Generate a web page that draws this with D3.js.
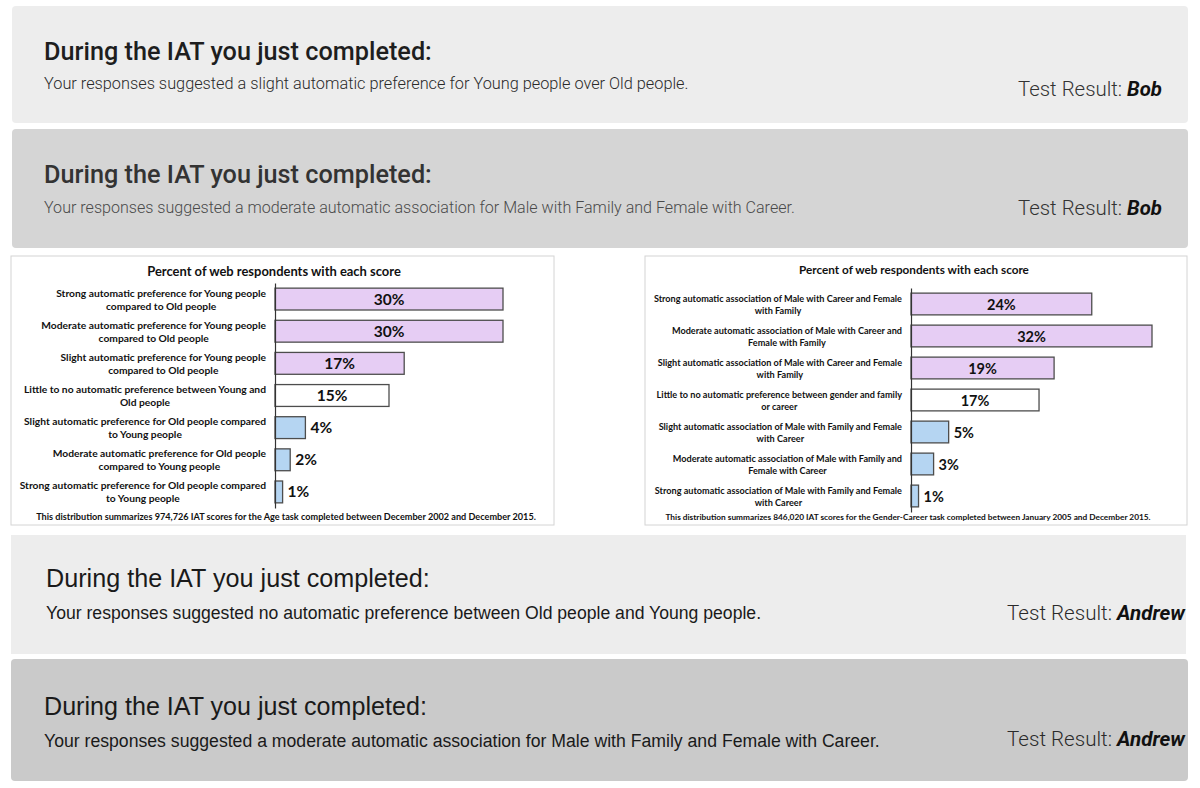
<!DOCTYPE html>
<html><head><meta charset="utf-8">
<script src="https://cdn.jsdelivr.net/npm/d3@7"></script>
<style>html,body{margin:0;padding:0;background:#fff;overflow:hidden}svg{display:block}</style>
</head><body>
<svg id="c" width="1200" height="788"></svg>
<script>
// ---------- data ----------
const chartTitle = "Percent of web respondents with each score";

const ageCategories = [
  "Strong automatic preference for Young people\ncompared to Old people",
  "Moderate automatic preference for Young people\ncompared to Old people",
  "Slight automatic preference for Young people\ncompared to Old people",
  "Little to no automatic preference between Young and\nOld people",
  "Slight automatic preference for Old people compared\nto Young people",
  "Moderate automatic preference for Old people\ncompared to Young people",
  "Strong automatic preference for Old people compared\nto Young people"
];
const ageValues = [30, 30, 17, 15, 4, 2, 1];
const ageGroups = ["young", "young", "young", "neutral", "old", "old", "old"];
const ageNote = "This distribution summarizes 974,726 IAT scores for the Age task completed between December 2002 and December 2015.";

const genderCategories = [
  "Strong automatic association of Male with Career and Female\nwith Family",
  "Moderate automatic association of Male with Career and\nFemale with Family",
  "Slight automatic association of Male with Career and Female\nwith Family",
  "Little to no automatic preference between gender and family\nor career",
  "Slight automatic association of Male with Family and Female\nwith Career",
  "Moderate automatic association of Male with Family and\nFemale with Career",
  "Strong automatic association of Male with Family and Female\nwith Career"
];
const genderValues = [24, 32, 19, 17, 5, 3, 1];
const genderGroups = ["young", "young", "young", "neutral", "old", "old", "old"];
const genderNote = "This distribution summarizes 846,020 IAT scores for the Gender-Career task completed between January 2005 and December 2015.";

const panelHeadings = [
  "During the IAT you just completed:",
  "During the IAT you just completed:",
  "During the IAT you just completed:",
  "During the IAT you just completed:"
];
const panelMessages = [
  "Your responses suggested a slight automatic preference for Young people over Old people.",
  "Your responses suggested a moderate automatic association for Male with Family and Female with Career.",
  "Your responses suggested no automatic preference between Old people and Young people.",
  "Your responses suggested a moderate automatic association for Male with Family and Female with Career."
];
const resultLabel = "Test Result: ";
const panelResults = ["Bob", "Bob", "Andrew", "Andrew"];

// ---------- drawing ----------
const svg = d3.select("#c");
svg.append("rect").attr("width", 1200).attr("height", 788).attr("fill", "#fff");

function fit(sel, target) {
  const w = sel.node().getComputedTextLength();
  const fs = parseFloat(sel.attr("font-size"));
  if (w > 0) sel.attr("font-size", (fs * target / w).toFixed(2));
}

// Panels layout
const panelLayout = [
  {x:12, y:6,   w:1176, h:117, rx:4, fill:"#ededed", hx:44, hy:60, hw:388, hFont:"Roboto", hWeight:500, hFill:"#1e1e1e",
   my:89, mw:645, mFont:"Roboto", mWeight:300, mFill:"#2a2a2a", rx2:1162, ry:96, rw:144, rFill:"#333"},
  {x:12, y:129, w:1176, h:119, rx:4, fill:"#d5d5d5", hx:44, hy:183, hw:388, hFont:"Roboto", hWeight:500, hFill:"#333",
   my:213, mw:751, mFont:"Roboto", mWeight:300, mFill:"#4a4a4a", rx2:1162, ry:215, rw:144, rFill:"#333"},
  {x:11, y:535, w:1175, h:119, rx:0, fill:"#ededed", hx:46, hy:587, hw:384, hFont:"Liberation Sans", hWeight:400, hFill:"#1a1a1a",
   my:619, mw:716, mFont:"Liberation Sans", mWeight:400, mFill:"#1a1a1a", rx2:1185, ry:620, rw:178, rFill:"#2a2a2a"},
  {x:11, y:659, w:1177, h:122, rx:4, fill:"#cacaca", hx:44, hy:715, hw:383, hFont:"Liberation Sans", hWeight:400, hFill:"#1a1a1a",
   my:747, mw:836, mFont:"Liberation Sans", mWeight:400, mFill:"#1a1a1a", rx2:1185, ry:746, rw:178, rFill:"#2a2a2a"}
];

panelLayout.forEach((p, i) => {
  const g = svg.append("g");
  g.append("rect").attr("x", p.x).attr("y", p.y).attr("width", p.w).attr("height", p.h)
    .attr("rx", p.rx).attr("fill", p.fill);
  const h = g.append("text").attr("x", p.hx).attr("y", p.hy)
    .attr("font-family", p.hFont).attr("font-weight", p.hWeight).attr("font-size", 22)
    .attr("fill", p.hFill).text(panelHeadings[i]);
  fit(h, p.hw);
  const m = g.append("text").attr("x", p.hx).attr("y", p.my)
    .attr("font-family", p.mFont).attr("font-weight", p.mWeight).attr("font-size", 16)
    .attr("fill", p.mFill).text(panelMessages[i]);
  fit(m, p.mw);
  const r = g.append("text").attr("x", p.rx2).attr("y", p.ry).attr("text-anchor", "end")
    .attr("font-family", "Roboto").attr("font-size", 20);
  r.append("tspan").attr("font-weight", 300).attr("fill", p.rFill).text(resultLabel);
  r.append("tspan").attr("font-weight", 700).attr("font-style", "italic").attr("fill", "#111").text(panelResults[i]);
  fit(r, p.rw);
});

// Charts
const groupColor = d3.scaleOrdinal().domain(["young", "neutral", "old"]).range(["#e6cdf4", "#ffffff", "#b5d5f2"]);

function drawChart(cfg) {
  const g = svg.append("g");
  g.append("rect").attr("x", cfg.box[0]).attr("y", cfg.box[1]).attr("width", cfg.box[2]).attr("height", cfg.box[3])
    .attr("fill", "#fff").attr("stroke", "#d4d4d4").attr("stroke-width", 1);

  const t = g.append("text").attr("x", cfg.titleX).attr("y", cfg.titleY).attr("text-anchor", "middle")
    .attr("font-family", "Lato").attr("font-weight", 700).attr("font-size", 12).attr("fill", "#111").text(chartTitle);
  fit(t, cfg.titleW);

  const y = d3.scaleBand().domain(cfg.categories).range(cfg.yRange).paddingInner(0.32).paddingOuter(0.16);
  const x = d3.scaleLinear().domain([0, cfg.xMax]).range(cfg.xRange);

  const data = cfg.categories.map((c, i) => ({c, v: cfg.values[i], grp: cfg.groups[i]}));

  g.selectAll("rect.bar").data(data).join("rect").attr("class", "bar")
    .attr("x", x(0)).attr("y", d => y(d.c)).attr("width", d => x(d.v) - x(0)).attr("height", y.bandwidth())
    .attr("fill", d => groupColor(d.grp)).attr("stroke", "#4d4d4d").attr("stroke-width", 1.3);

  const ax = g.append("g").attr("transform", `translate(${x(0)},0)`)
    .call(d3.axisLeft(y).tickSize(0).tickSizeOuter(0).tickFormat(""));
  ax.select(".domain").attr("stroke", "#333").attr("stroke-width", 1.2);

  // value labels
  g.selectAll("text.val").data(data).join("text").attr("class", "val")
    .attr("x", d => d.v >= 10 ? (x(0) + x(d.v)) / 2 : x(d.v) + 5)
    .attr("y", d => y(d.c) + y.bandwidth() / 2 + 5.5)
    .attr("text-anchor", d => d.v >= 10 ? "middle" : "start")
    .attr("font-family", "Lato").attr("font-weight", 700).attr("font-size", cfg.valFont).attr("fill", "#111")
    .text(d => d.v + "%");

  // category labels: block right-aligned, lines centered within block
  const probe = g.append("text").attr("font-family", "Lato").attr("font-weight", 700).attr("font-size", 10)
    .text(cfg.refLine);
  const labelFont = 10 * cfg.refW / probe.node().getComputedTextLength();
  probe.remove();

  data.forEach(d => {
    const lines = d.c.split("\n");
    const cy = y(d.c) + y.bandwidth() / 2;
    const texts = lines.map((ln, k) => g.append("text")
      .attr("y", cy - 2.5 + k * cfg.lineGap)
      .attr("font-family", "Lato").attr("font-weight", 700).attr("font-size", labelFont.toFixed(2))
      .attr("fill", "#111").attr("text-anchor", "middle").text(ln));
    const maxW = d3.max(texts, tx => tx.node().getComputedTextLength());
    texts.forEach(tx => tx.attr("x", cfg.labelRight - maxW / 2));
  });

  const n = g.append("text").attr("x", cfg.noteX).attr("y", cfg.noteY).attr("text-anchor", "middle")
    .attr("font-family", "Lato").attr("font-weight", 700).attr("font-size", 8.5).attr("fill", "#111").text(cfg.note);
  fit(n, cfg.noteW);
}

drawChart({
  box: [11, 256, 543, 269],
  categories: ageCategories, values: ageValues, groups: ageGroups, note: ageNote,
  titleX: 274, titleY: 276, titleW: 254,
  yRange: [283, 508], xMax: 30, xRange: [275, 503],
  labelRight: 266, refLine: "Strong automatic preference for Young people", refW: 210, lineGap: 13,
  valFont: 15.5, noteX: 286, noteY: 520, noteW: 501
});

drawChart({
  box: [645, 256, 542, 269],
  categories: genderCategories, values: genderValues, groups: genderGroups, note: genderNote,
  titleX: 914, titleY: 274, titleW: 230,
  yRange: [288, 512], xMax: 32, xRange: [911, 1152],
  labelRight: 902, refLine: "Strong automatic association of Male with Family and Female", refW: 248, lineGap: 12.5,
  valFont: 14.5, noteX: 908, noteY: 520, noteW: 485
});
</script>
</body></html>
